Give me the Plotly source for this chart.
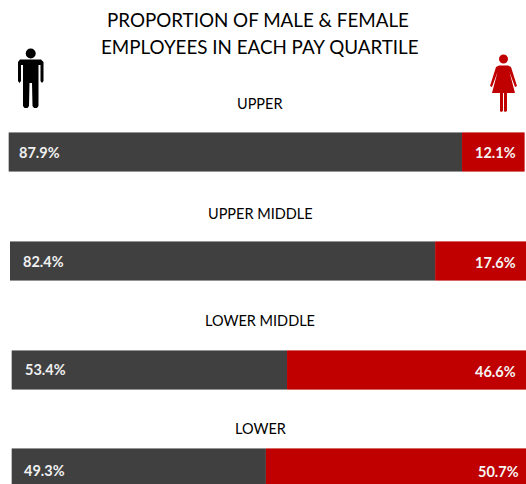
import plotly.graph_objects as go

W, H = 526, 484
QUARTILES = ["UPPER", "UPPER MIDDLE", "LOWER MIDDLE", "LOWER"]
MALE = [87.9, 82.4, 53.4, 49.3]
FEMALE = [12.1, 17.6, 46.6, 50.7]
TITLE_LINES = ["PROPORTION OF MALE &amp; FEMALE", "EMPLOYEES IN EACH PAY QUARTILE"]
DARK, RED = "#404040", "#C00000"
DARK_EDGE, RED_EDGE = "#b0b0b0", "#dc8a8a"
FONT = "Lato"

# pixel layout of each panel (left, top, bar height 40, full width 516)
BAR_LEFT = [8.5, 10, 11.5, 11.5]
BAR_TOP = [132, 241, 350, 448]
BAR_W, BAR_H = 516, 40
HEAD_Y = [103, 213, 320, 428]
MALE_LBL = [(18, 152), (22, 261), (24, 369), (23, 470)]
FEMALE_LBL = [(516, 152), (516, 262), (516, 371), (519, 471)]

fig = go.Figure()
layout = {}
px = lambda x: x / W
py = lambda y: 1 - y / H


def ann(text, x, y, size, color, anchor="center", bold=False):
    t = f"<b>{text}</b>" if bold else text
    return dict(text=t, x=px(x), y=py(y), xref="paper", yref="paper", showarrow=False,
                xanchor=anchor, yanchor="middle", font=dict(family=FONT, size=size, color=color))


anns = [ann(TITLE_LINES[0], 258, 19, 18.8, "#000"), ann(TITLE_LINES[1], 259.5, 47, 18.8, "#000")]

for i, q in enumerate(QUARTILES):
    n = "" if i == 0 else str(i + 1)
    left, top = BAR_LEFT[i], BAR_TOP[i]
    bottom = min(top + BAR_H, H)
    xr = [0, (W - left) / BAR_W * 100]
    yr = [0.5 - (bottom - top) / BAR_H, 0.5]
    layout[f"xaxis{n}"] = dict(domain=[px(left), 1], range=xr, visible=False, fixedrange=True, anchor=f"y{n}")
    layout[f"yaxis{n}"] = dict(domain=[py(bottom), py(top)], range=yr, visible=False, fixedrange=True, anchor=f"x{n}")
    # a full-height lighter bar behind a slightly thinner one gives the top and bottom edge lines
    for bar_width, male_col, female_col in [(1, DARK_EDGE, RED_EDGE), (0.96, DARK, RED)]:
        fig.add_bar(x=[MALE[i]], y=[0], width=bar_width, orientation="h", xaxis=f"x{n}", yaxis=f"y{n}",
                    marker=dict(color=male_col, line=dict(width=0)), showlegend=False, hoverinfo="skip")
        fig.add_bar(x=[FEMALE[i]], y=[0], base=[MALE[i]], width=bar_width, orientation="h", xaxis=f"x{n}", yaxis=f"y{n}",
                    marker=dict(color=female_col, line=dict(width=0)), showlegend=False, hoverinfo="skip")
    anns.append(ann(q, 260, HEAD_Y[i], 14.5, "#000"))
    anns.append(ann(f"{MALE[i]}%", MALE_LBL[i][0] - 1.5, MALE_LBL[i][1], 14.5, "#f0f0f0", "left", True))
    anns.append(ann(f"{FEMALE[i]}%", FEMALE_LBL[i][0] + 2, FEMALE_LBL[i][1], 14.5, "#f5f5f5", "right", True))


def path(points):
    return "M" + " L".join(f"{px(x):.5f},{py(y):.5f}" for x, y in points) + " Z"


def shp(p, color):
    return dict(type="path", path=p, xref="paper", yref="paper", fillcolor=color, line=dict(width=0))


def head(cx, cy, rx, ry, color):
    return dict(type="circle", xref="paper", yref="paper", x0=px(cx - rx), x1=px(cx + rx),
                y0=py(cy + ry), y1=py(cy - ry), fillcolor=color, line=dict(width=0))


man = [(20, 59.5), (41, 59.5), (43.5, 62), (43.5, 81), (42, 83), (40.5, 81), (40.5, 65), (38.5, 65),
       (38.5, 106), (37, 108), (34, 108), (32.5, 106), (32, 83), (29.5, 83), (29, 106), (27.5, 108),
       (24.5, 108), (23, 106), (23, 65), (21, 65), (21, 81), (19.5, 83), (18, 81), (18, 62)]
woman = [(499, 65.5), (508, 65.5), (511, 67), (517, 86), (515, 87), (509.5, 72), (515, 93), (507, 93),
         (507, 111), (505, 112), (504, 111), (504, 93), (503, 93), (503, 111), (501, 112), (500, 111),
         (500, 93), (492, 93), (497.5, 72), (492, 87), (490, 86), (496, 67)]
shapes = [head(30.7, 53.5, 5, 5, "#000"), shp(path(man), "#000"),
          head(503.5, 59, 4.5, 4.5, RED), shp(path(woman), RED)]

fig.update_layout(width=W, height=H, margin=dict(l=0, r=0, t=0, b=0), paper_bgcolor="#fff",
                  plot_bgcolor="#fff", barmode="overlay", annotations=anns, shapes=shapes, **layout)
fig.write_html("out.html", config={"displayModeBar": False},
               post_script="document.body.style.margin='0';document.documentElement.style.overflow='hidden';")
